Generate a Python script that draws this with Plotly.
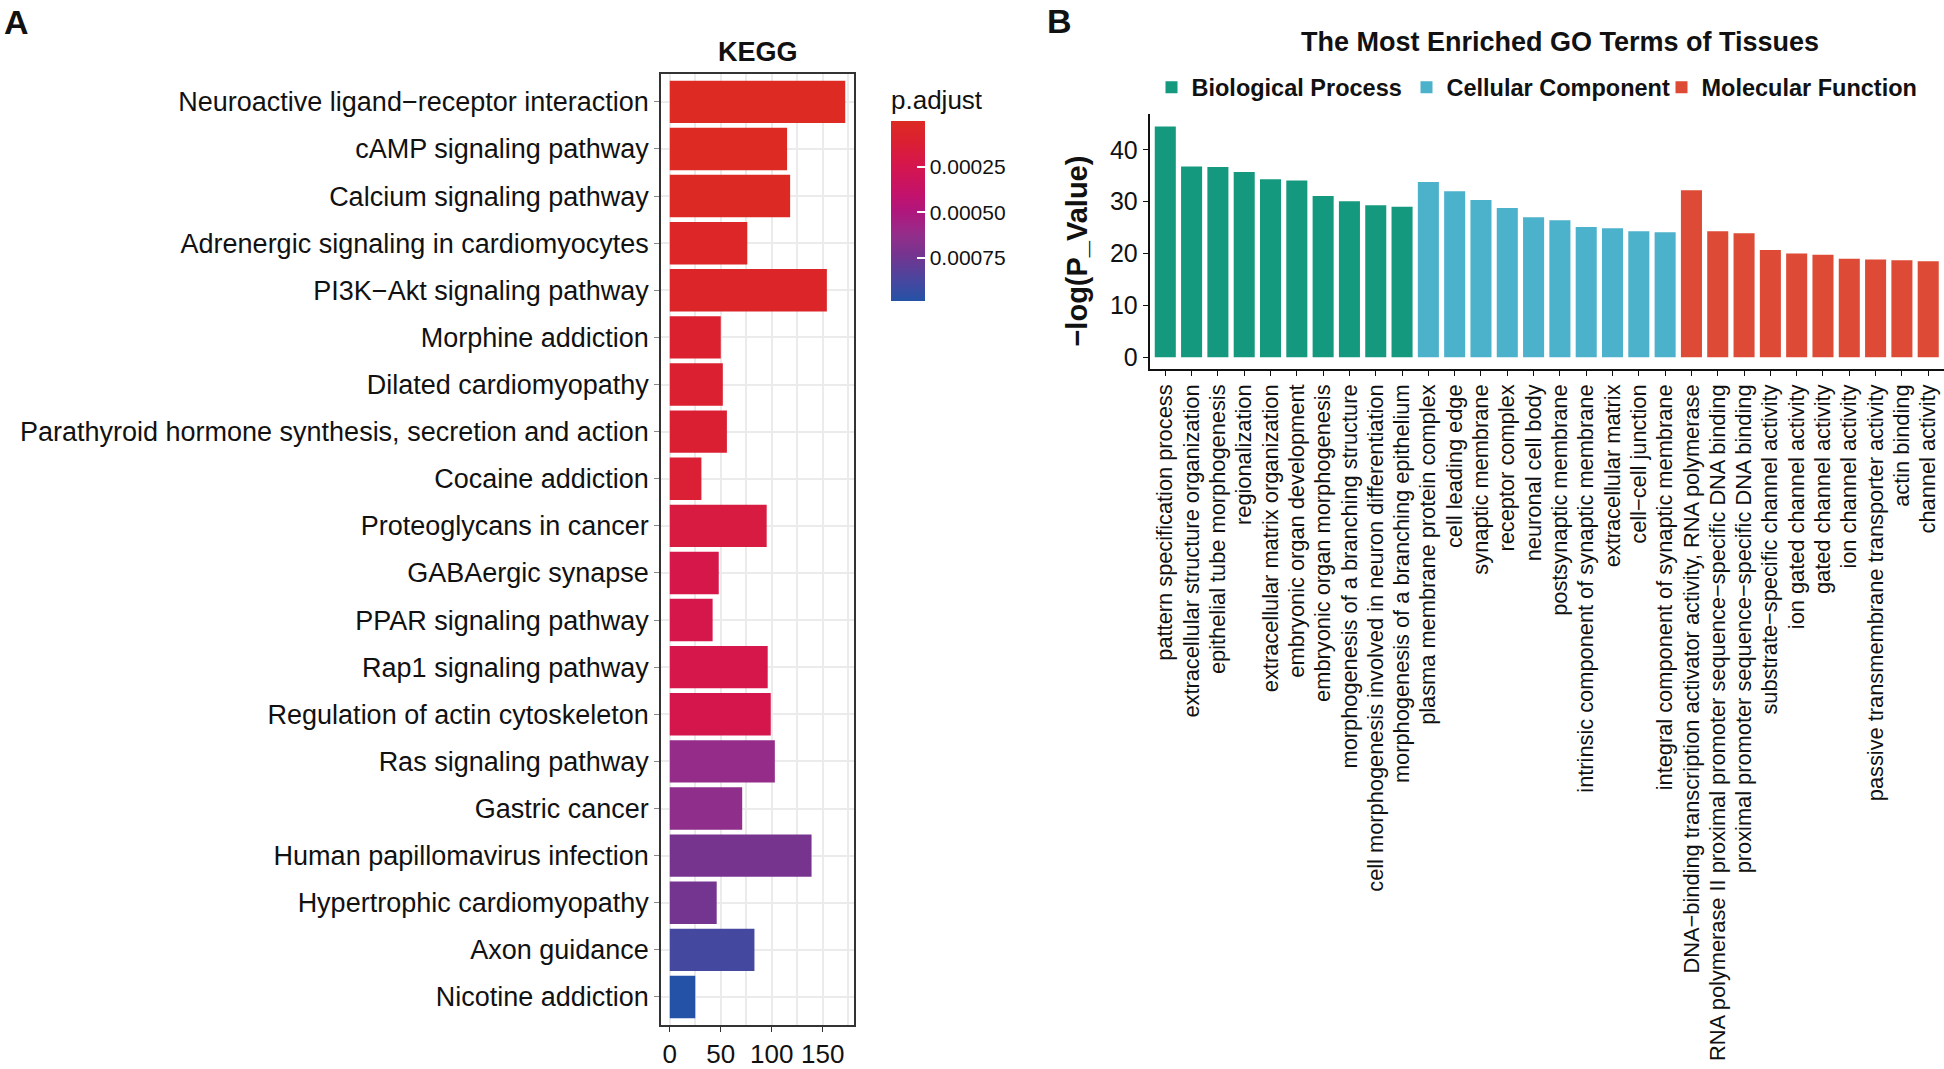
import plotly.graph_objects as go

W, H = 1944, 1069
FONT = "Liberation Sans, Arial, sans-serif"

# ---------------- Panel A data (KEGG) ----------------
kegg_terms = [
    "Neuroactive ligand\u2212receptor interaction",
    "cAMP signaling pathway",
    "Calcium signaling pathway",
    "Adrenergic signaling in cardiomyocytes",
    "PI3K\u2212Akt signaling pathway",
    "Morphine addiction",
    "Dilated cardiomyopathy",
    "Parathyroid hormone synthesis, secretion and action",
    "Cocaine addiction",
    "Proteoglycans in cancer",
    "GABAergic synapse",
    "PPAR signaling pathway",
    "Rap1 signaling pathway",
    "Regulation of actin cytoskeleton",
    "Ras signaling pathway",
    "Gastric cancer",
    "Human papillomavirus infection",
    "Hypertrophic cardiomyopathy",
    "Axon guidance",
    "Nicotine addiction",
]
kegg_counts = [172, 115, 118, 76, 154, 50, 52, 56, 31, 95, 48, 42, 96, 99, 103, 71, 139, 46, 83, 25]
kegg_padj = [1.5e-8, 5e-6, 8e-6, 4e-5, 5e-5, 1.0e-4, 1.05e-4, 1.2e-4, 1.25e-4, 1.8e-4,
             2.3e-4, 2.35e-4, 2.4e-4, 2.45e-4, 6.2e-4, 6.4e-4, 7.3e-4, 7.4e-4, 8.9e-4, 9.9e-4]
kegg_xticks = [0, 50, 100, 150]
kegg_xminor = [25, 75, 125, 175]
padj_ticks = [0.00025, 0.00050, 0.00075]
padj_ticklabels = ["0.00025", "0.00050", "0.00075"]

# ---------------- Panel B data (GO) ----------------
bp_terms = [
    "pattern specification process",
    "extracellular structure organization",
    "epithelial tube morphogenesis",
    "regionalization",
    "extracellular matrix organization",
    "embryonic organ development",
    "embryonic organ morphogenesis",
    "morphogenesis of a branching structure",
    "cell morphogenesis involved in neuron differentiation",
    "morphogenesis of a branching epithelium",
]
bp_values = [44.5, 36.8, 36.7, 35.7, 34.3, 34.1, 31.1, 30.1, 29.3, 29.0]
cc_terms = [
    "plasma membrane protein complex",
    "cell leading edge",
    "synaptic membrane",
    "receptor complex",
    "neuronal cell body",
    "postsynaptic membrane",
    "intrinsic component of synaptic membrane",
    "extracellular matrix",
    "cell\u2212cell junction",
    "integral component of synaptic membrane",
]
cc_values = [33.8, 32.0, 30.3, 28.8, 27.0, 26.4, 25.1, 24.9, 24.3, 24.1]
mf_terms = [
    "DNA\u2212binding transcription activator activity, RNA polymerase",
    "RNA polymerase II proximal promoter sequence\u2212specific DNA binding",
    "proximal promoter sequence\u2212specific DNA binding",
    "substrate\u2212specific channel activity",
    "ion gated channel activity",
    "gated channel activity",
    "ion channel activity",
    "passive transmembrane transporter activity",
    "actin binding",
    "channel activity",
]
mf_values = [32.2, 24.3, 23.9, 20.7, 20.0, 19.75, 19.0, 18.85, 18.7, 18.5]
go_yticks = [0, 10, 20, 30, 40]

C_BP, C_CC, C_MF = "#14997F", "#4CB1CA", "#DD4A35"

# colour scale (position 0 = largest p.adjust = blue, 1 = smallest = red)
pscale = [
    [0.00, "#2452A6"],
    [0.12, "#4A469E"],
    [0.25, "#733590"],
    [0.37, "#952D8A"],
    [0.50, "#B0167C"],
    [0.60, "#C4126A"],
    [0.75, "#D5164E"],
    [0.88, "#DB1F33"],
    [1.00, "#DD2A22"],
]

fig = go.Figure()

neg_p = [-p for p in kegg_padj]
fig.add_trace(go.Bar(
    y=kegg_terms, x=kegg_counts, orientation="h", width=0.9,
    xaxis="x", yaxis="y", showlegend=False,
    marker=dict(
        color=neg_p, colorscale=pscale, cmin=-max(kegg_padj), cmax=-min(kegg_padj),
        line=dict(width=0),
        colorbar=dict(
            title=dict(text="p.adjust", side="top", font=dict(size=26, family=FONT, color="#111")),
            x=891 / W, xanchor="left", xpad=0,
            y=1 - 303 / H, yanchor="bottom", ypad=0,
            lenmode="pixels", len=215, thicknessmode="pixels", thickness=34,
            outlinewidth=0,
            tickvals=[-v for v in padj_ticks], ticktext=padj_ticklabels,
            ticks="inside", ticklen=8, tickcolor="white", tickwidth=1.5,
            tickfont=dict(size=21, family=FONT, color="#111"),
        ),
    ),
))

for terms, vals, col, name in [(bp_terms, bp_values, C_BP, "Biological Process"),
                               (cc_terms, cc_values, C_CC, "Cellular Component"),
                               (mf_terms, mf_values, C_MF, "Molecular Function")]:
    fig.add_trace(go.Bar(
        x=terms, y=vals, width=0.8, name=name, xaxis="x2", yaxis="y2",
        marker=dict(color=col, line=dict(width=0)),
    ))

all_go = bp_terms + cc_terms + mf_terms

fig.update_layout(
    width=W, height=H, margin=dict(l=0, r=0, t=0, b=0),
    paper_bgcolor="white", plot_bgcolor="white",
    barmode="overlay",
    font=dict(family=FONT, color="#111"),
    xaxis=dict(
        domain=[661 / W, 854 / W], anchor="y", range=[-8.6, 180.6],
        tickvals=kegg_xticks, ticks="outside", ticklen=5, tickcolor="#333", tickwidth=1.2,
        showgrid=True, gridcolor="#EBEBEB", gridwidth=2,
        minor=dict(tickvals=kegg_xminor, showgrid=True, gridcolor="#EBEBEB", gridwidth=2, ticks=""),
        showline=True, linecolor="#333", linewidth=1.6, mirror=True, zeroline=False,
        tickfont=dict(size=26, family=FONT, color="#111"),
    ),
    yaxis=dict(
        domain=[1 - 1031 / H, 1 - 74 / H], anchor="x", type="category",
        categoryorder="array", categoryarray=kegg_terms, range=[19.6, -0.6],
        showgrid=True, gridcolor="#EBEBEB", gridwidth=2,
        ticks="outside", ticklen=5, tickcolor="#888", tickwidth=1.2,
        showline=True, linecolor="#333", linewidth=1.6, mirror=True,
        tickfont=dict(size=27, family=FONT, color="#111"),
    ),
    xaxis2=dict(
        domain=[1149.5 / W, 1.0], anchor="y2", type="category",
        categoryorder="array", categoryarray=all_go, range=[-0.6, 29.6],
        tickangle=-90, ticks="outside", ticklen=5, tickcolor="#111",
        showline=True, linecolor="#111", linewidth=1.6, showgrid=False,
        tickfont=dict(size=21.8, family=FONT, color="#111"),
    ),
    yaxis2=dict(
        domain=[1 - 371 / H, 1 - 115 / H], anchor="x2", range=[-2.23, 46.83],
        tickvals=go_yticks, ticks="outside", ticklen=5, tickcolor="#111",
        showline=True, linecolor="#111", linewidth=1.6, showgrid=False, zeroline=False,
        tickfont=dict(size=25, family=FONT, color="#111"),
    ),
    legend=dict(
        orientation="h", x=1151.5 / W, xanchor="left", y=1 - 88 / H, yanchor="middle",
        font=dict(size=23.5, family=FONT, color="#111", weight="bold"),
        bgcolor="rgba(0,0,0,0)", traceorder="normal",
        entrywidthmode="pixels", entrywidth=210,
    ),
    annotations=[
        dict(text="<b>KEGG</b>", x=757.5 / W, y=1 - 52 / H, xref="paper", yref="paper",
             xanchor="center", yanchor="middle",
             showarrow=False, font=dict(size=27, family=FONT, color="#111")),
        dict(text="<b>The Most Enriched GO Terms of Tissues</b>", x=1560 / W, y=1 - 42 / H,
             xref="paper", yref="paper", xanchor="center", yanchor="middle", showarrow=False,
             font=dict(size=27, family=FONT, color="#111")),
        dict(text="<b>\u2212log(P_Value)</b>", x=1077 / W, y=1 - 253 / H, xref="paper", yref="paper",
             xanchor="center", yanchor="middle", textangle=-90, showarrow=False,
             font=dict(size=29, family=FONT, color="#111")),
        dict(text="<b>A</b>", x=16 / W, y=1 - 22 / H, xref="paper", yref="paper",
             xanchor="center", yanchor="middle",
             showarrow=False, font=dict(size=34, family=FONT, color="#111")),
        dict(text="<b>B</b>", x=1059 / W, y=1 - 21 / H, xref="paper", yref="paper",
             xanchor="center", yanchor="middle",
             showarrow=False, font=dict(size=34, family=FONT, color="#111")),
    ],
)

fig.write_html("out.html", config={"displayModeBar": False},
               post_script="document.body.style.margin='0px';document.body.style.overflow='hidden';")
